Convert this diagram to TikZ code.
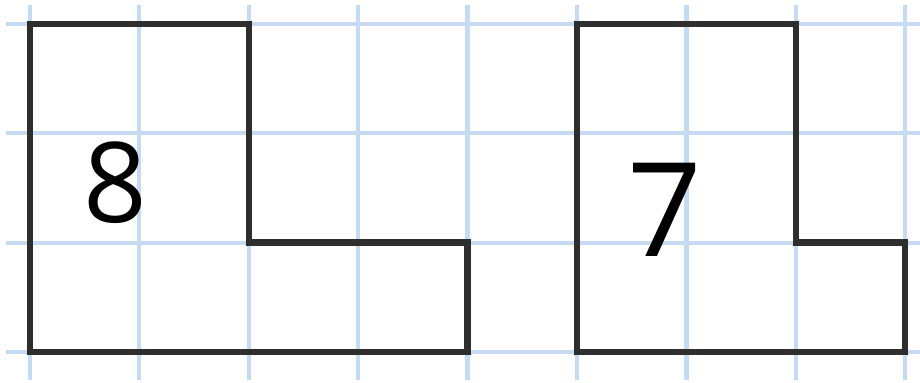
\documentclass[tikz,border=0pt]{standalone}
\usepackage{fontspec}
\setmainfont{Open Sans}
\usetikzlibrary{positioning}
\definecolor{gridblue}{RGB}{198,218,242}
\tikzstyle{gridline}=[draw=gridblue,line width=1.1pt]
\tikzstyle{figure}=[draw=black!82,line width=1.7pt,line join=miter]
\tikzstyle{area}=[inner sep=0pt,font=\fontsize{29}{29}\selectfont]

\begin{document}
\begin{tikzpicture}[x=1cm, y=1cm]
  \useasboundingbox (-0.274,-0.274) rectangle (8.135,3.218);

  % squared paper
  \foreach \i in {0,...,8}
    \draw[gridline] (\i,-0.256) -- (\i,3.17);
  \foreach \j in {0,...,3}
    \draw[gridline] (-0.22,\j) -- (8.135,\j);

  % the two figures
  \draw[figure] (0,0) -- (0,3) -- (2,3) -- (2,1) -- (4,1) -- (4,0) -- cycle;
  \draw[figure] (5,0) -- (5,3) -- (7,3) -- (7,1) -- (8,1) -- (8,0) -- cycle;

  \node[area] (eight) at (0.777,1.545) {8};
  \node[area, font=\fontsize{34}{34}\selectfont] (seven) at (5.80,1.30) {7};
\end{tikzpicture}
\end{document}
